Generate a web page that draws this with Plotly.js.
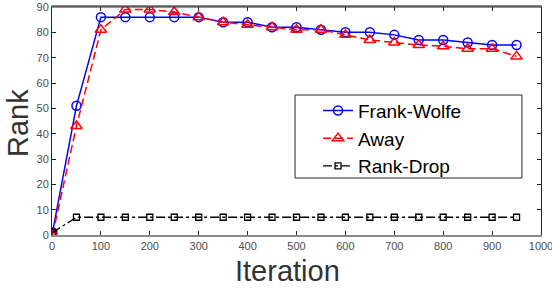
<!DOCTYPE html>
<html><head><meta charset="utf-8">
<script src="https://cdn.plot.ly/plotly-3.0.1.min.js"></script>
<style>html,body{margin:0;padding:0;background:#fff}#c{width:552px;height:288px}</style>
</head><body><div id="c"></div>
<script>
const iterations = [1,50,100,150,200,250,300,350,400,450,500,550,600,650,700,750,800,850,900,950];
const frankWolfe = [1,51,86,86,86,86,86,84,84,82,82,81,80,80,79,77,77,76,75,75];
const away = [0,43,81,89,89,88,86,84,83,82,81,81,79,77,76,75,74.5,73.5,73.5,70.5];
const rankDrop = [1,7,7,7,7,7,7,7,7,7,7,7,7,7,7,7,7,7,7,7];
const xTicks = [0,100,200,300,400,500,600,700,800,900,1000];
const yTicks = [0,10,20,30,40,50,60,70,80,90];
const xTitle = 'Iteration';
const yTitle = 'Rank';

const traces = [
  {x: iterations, y: frankWolfe, name: 'Frank-Wolfe', mode: 'lines+markers',
   line: {color: '#0000ff', width: 1.5, dash: 'solid'},
   marker: {symbol: 'circle-open', size: 9, color: '#0000ff', line: {width: 1.5}}},
  {x: iterations, y: away, name: 'Away', mode: 'lines+markers',
   line: {color: '#ff0000', width: 1.5, dash: '8px,4px'},
   marker: {symbol: 'triangle-up-open', size: 10, color: '#ff0000', line: {width: 1.5}}},
  {x: iterations, y: rankDrop, name: 'Rank-Drop', mode: 'lines+markers',
   line: {color: '#000000', width: 1.3, dash: 'dashdot'},
   marker: {symbol: 'square-open', size: 6, color: '#000000', line: {width: 1.3}}}
];

const layout = {
  width: 552, height: 288,
  margin: {l: 52, r: 11, t: 7, b: 53},
  paper_bgcolor: '#fff', plot_bgcolor: '#fff',
  font: {family: 'Liberation Sans, Arial, sans-serif', color: '#262626'},
  showlegend: true,
  legend: {x: 0.544, y: 0.629, xanchor: 'left', yanchor: 'top',
           borderwidth: 0, bgcolor: 'rgba(0,0,0,0)',
           font: {size: 19, color: '#000'}, tracegroupgap: 0},
  shapes: [
    {type: 'rect', xref: 'paper', yref: 'paper', x0: 0.497, x1: 0.961, y0: 0.25, y1: 0.614,
     line: {color: '#262626', width: 1}, fillcolor: '#fff', layer: 'below'},
    {type: 'line', xref: 'paper', yref: 'paper', x0: 0, x1: 1, y0: 1, y1: 1,
     line: {color: '#262626', width: 1}}
  ],
  annotations: [
    {text: xTitle, xref: 'paper', yref: 'paper', x: 0.4806, y: -0.158,
     xanchor: 'center', yanchor: 'middle', showarrow: false,
     font: {size: 29, color: '#333'}},
    {text: yTitle, xref: 'paper', yref: 'paper', x: -0.0695, y: 0.491, textangle: -90,
     xanchor: 'center', yanchor: 'middle', showarrow: false, borderpad: 0,
     font: {size: 29, color: '#333'}}
  ],
  xaxis: {range: [0, 1000], tickvals: xTicks, ticktext: xTicks.map(String),
          showgrid: false, zeroline: false, showline: true, mirror: 'ticks',
          linecolor: '#8a8a8a', linewidth: 2, ticks: 'inside', ticklen: 4,
          tickcolor: '#262626', tickfont: {size: 11, color: '#4d4d4d'},
          ticklabeloverflow: 'allow'},
  yaxis: {range: [0, 90], tickvals: yTicks, ticktext: yTicks.map(String),
          showgrid: false, zeroline: false, showline: true, mirror: 'ticks',
          linecolor: '#262626', linewidth: 1, ticks: 'inside', ticklen: 4,
          tickcolor: '#262626', tickfont: {size: 11, color: '#4d4d4d'}}
};
Plotly.newPlot('c', traces, layout, {displayModeBar: false, staticPlot: true});
</script></body></html>
